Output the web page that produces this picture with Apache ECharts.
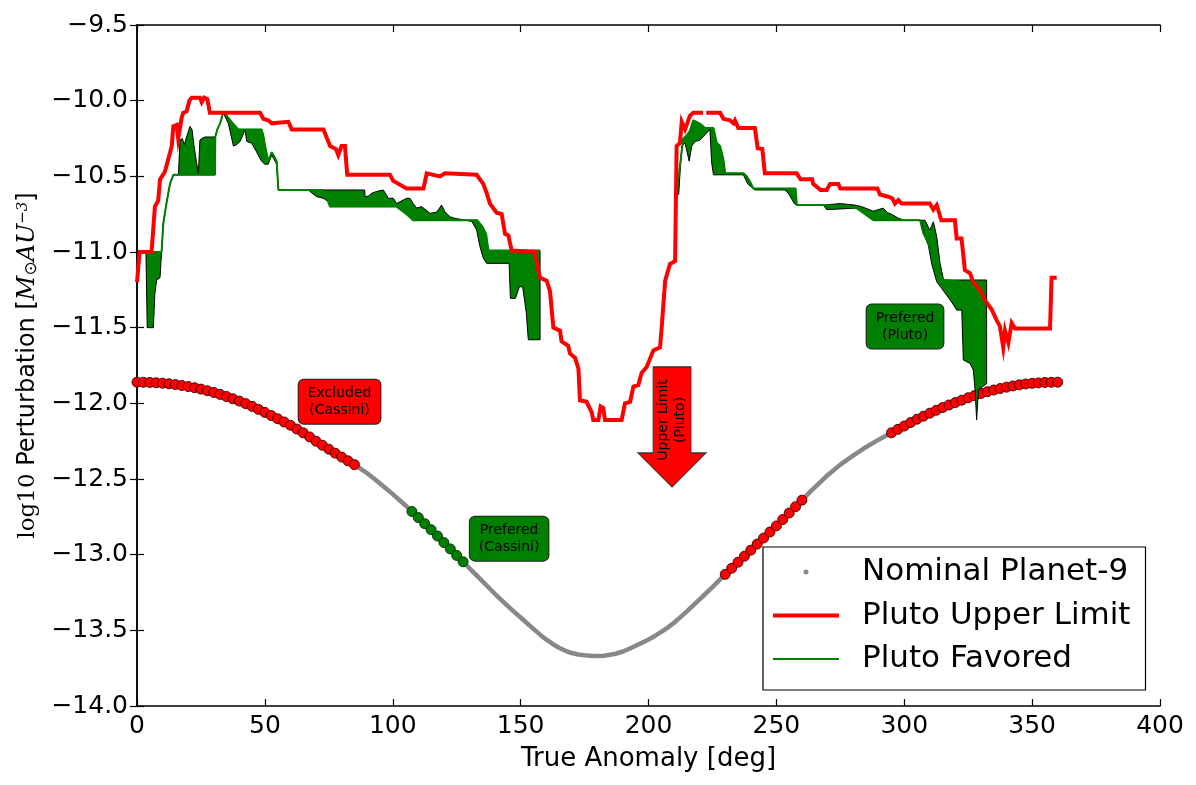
<!DOCTYPE html>
<html>
<head>
<meta charset="utf-8">
<script src="https://cdn.jsdelivr.net/npm/echarts@6/dist/echarts.min.js"></script>
<style>html,body{margin:0;padding:0;background:#fff}#chart{width:1196px;height:785px}</style>
</head>
<body>
<div id="chart"></div>
<script>
// ---------------- data ----------------
const xTicks = [0, 50, 100, 150, 200, 250, 300, 350, 400];
const yTicks = [-14.0, -13.5, -13.0, -12.5, -12.0, -11.5, -11.0, -10.5, -10.0, -9.5];

// Nominal Planet-9 curve (true anomaly, log10 perturbation)
const nominalAnomaly = [
  0,2.5,5,7.5,10,12.5,15,17.5,20,22.5,25,27.5,30,32.5,35,37.5,40,42.5,45,47.5,
  50,52.5,55,57.5,60,62.5,65,67.5,70,72.5,75,77.5,80,82.5,85,87.5,90,92.5,95,97.5,
  100,102.5,105,107.5,110,112.5,115,117.5,120,122.5,125,127.5,130,132.5,135,137.5,140,142.5,145,147.5,
  150,152.5,155,157.5,160,162.5,165,167.5,170,172.5,175,177.5,180,182.5,185,187.5,190,192.5,195,197.5,
  200,202.5,205,207.5,210,212.5,215,217.5,220,222.5,225,227.5,230,232.5,235,237.5,240,242.5,245,247.5,
  250,252.5,255,257.5,260,262.5,265,267.5,270,272.5,275,277.5,280,282.5,285,287.5,290,292.5,295,297.5,
  300,302.5,305,307.5,310,312.5,315,317.5,320,322.5,325,327.5,330,332.5,335,337.5,340,342.5,345,347.5,
  350,352.5,355,357.5,360
];
const nominalPerturbation = [
  -11.860,-11.861,-11.862,-11.864,-11.867,-11.871,-11.876,-11.882,-11.889,-11.897,
  -11.906,-11.917,-11.928,-11.941,-11.955,-11.970,-11.985,-12.002,-12.020,-12.040,
  -12.060,-12.081,-12.102,-12.123,-12.145,-12.170,-12.195,-12.222,-12.250,-12.277,
  -12.303,-12.329,-12.355,-12.380,-12.405,-12.433,-12.462,-12.495,-12.530,-12.565,
  -12.600,-12.637,-12.675,-12.715,-12.755,-12.795,-12.835,-12.877,-12.920,-12.962,
  -13.005,-13.047,-13.090,-13.132,-13.175,-13.217,-13.260,-13.300,-13.340,-13.378,
  -13.415,-13.453,-13.490,-13.527,-13.560,-13.590,-13.615,-13.635,-13.650,-13.660,
  -13.665,-13.668,-13.670,-13.668,-13.662,-13.653,-13.640,-13.622,-13.602,-13.582,
  -13.560,-13.537,-13.510,-13.482,-13.450,-13.413,-13.375,-13.335,-13.295,-13.255,
  -13.215,-13.172,-13.130,-13.090,-13.050,-13.010,-12.970,-12.930,-12.890,-12.850,
  -12.810,-12.768,-12.725,-12.683,-12.640,-12.597,-12.555,-12.515,-12.475,-12.440,
  -12.405,-12.375,-12.345,-12.317,-12.290,-12.265,-12.240,-12.217,-12.195,-12.172,
  -12.150,-12.127,-12.105,-12.085,-12.065,-12.046,-12.028,-12.011,-11.995,-11.979,
  -11.963,-11.949,-11.935,-11.923,-11.912,-11.902,-11.893,-11.885,-11.878,-11.872,
  -11.868,-11.865,-11.862,-11.861,-11.860
];
// anomaly ranges marked on the nominal curve
const excludedCassiniRanges = [[0, 85], [230, 260], [295, 360]];
const preferredCassiniRanges = [[107.5, 127.5]];

// Pluto upper limit
const plutoUpperLimit = [
  [0,-11.2],[1,-11.0],[5.7,-11.0],[7,-10.7],[8.3,-10.66],[9,-10.52],[10.9,-10.47],[11.6,-10.48],
  [13.6,-10.3],[14.2,-10.17],[15.5,-10.16],[16.1,-10.25],[17.5,-10.11],[18.1,-10.08],[19.4,-10.07],
  [20.5,-10.0],[21.4,-9.98],[24.6,-9.98],[25.3,-10.01],[26.2,-9.98],[27.5,-9.99],[28.5,-10.08],
  [48.1,-10.08],[49.4,-10.12],[51.3,-10.13],[52.7,-10.15],[59.2,-10.14],[60.5,-10.19],[72.9,-10.19],
  [75.5,-10.3],[77.8,-10.32],[78.7,-10.36],[80,-10.3],[81.3,-10.3],[82.2,-10.49],[98.9,-10.49],
  [100.2,-10.53],[105.4,-10.58],[112,-10.58],[113.3,-10.48],[118.5,-10.5],[120.4,-10.48],[132.8,-10.49],
  [135.4,-10.55],[136.7,-10.61],[138,-10.68],[140.6,-10.74],[142.6,-10.75],[143.9,-10.88],[145.2,-10.89],
  [146.5,-10.99],[155.6,-11.0],[156.9,-11.12],[157.6,-11.17],[160.2,-11.19],[161.5,-11.26],[162.8,-11.5],
  [165.4,-11.52],[166,-11.59],[168.6,-11.62],[169.3,-11.67],[171.3,-11.7],[172.6,-11.77],[173.2,-11.98],
  [175.8,-11.99],[177.8,-12.06],[178.4,-12.11],[180.4,-12.11],[181.3,-12.02],[182.3,-12.03],[183,-12.11],
  [189.5,-12.11],[190.8,-12.0],[192.8,-11.99],[194.1,-11.89],[196,-11.88],[197.3,-11.8],[199.3,-11.76],
  [201.9,-11.65],[204.5,-11.63],[205.2,-11.49],[206.5,-11.19],[208.4,-11.08],[210.4,-11.06],[211,-10.3],
  [212.3,-10.28],[213,-10.14],[214.3,-10.19],[216.2,-10.1],[217.5,-10.08],[221.3,-10.08],[221.9,null],
  [222.6,-10.08],[228,-10.08],[229.3,-10.12],[231.9,-10.13],[233.2,-10.15],[233.8,-10.13],[235.1,-10.18],
  [241.6,-10.18],[242.7,-10.315],[244.5,-10.32],[245.5,-10.48],[257.9,-10.48],[259.5,-10.52],[264,-10.52],
  [264.4,-10.55],[267.3,-10.59],[269.7,-10.59],[271,-10.55],[274.2,-10.55],[275,-10.58],[289.5,-10.58],
  [290.5,-10.62],[293.8,-10.635],[295.3,-10.645],[296.4,-10.68],[297.7,-10.657],[299,-10.68],[310,-10.68],
  [311.4,-10.72],[312.7,-10.69],[314.5,-10.79],[319.8,-10.79],[320.5,-10.91],[322.4,-10.91],[323.7,-11.12],
  [325.7,-11.14],[327,-11.2],[329.6,-11.25],[331.6,-11.32],[334.2,-11.38],[336.1,-11.45],[337.4,-11.49],
  [338.7,-11.63],[339.4,-11.52],[340.7,-11.6],[342,-11.47],[343.3,-11.505],[357,-11.505],[357.6,-11.17],
  [359.6,-11.17]
];

// Pluto favored line
const plutoFavored = [
  [3.5,-11.0],[9.6,-11.0],[10.3,-10.81],[11.6,-10.67],[12.9,-10.55],[14.2,-10.49],[30.5,-10.49],
  [30.6,-10.24],[31.4,-10.19],[32.5,-10.15],[33.7,-10.08],[35.1,-10.1],[37,-10.14],[39.6,-10.19],
  [48.7,-10.19],[49.4,-10.23],[50,-10.29],[51.3,-10.4],[52.7,-10.34],[54,-10.38],[54.6,-10.4],
  [55.3,-10.59],[72.9,-10.59],[75.5,-10.7],[101.5,-10.7],[105.4,-10.75],[108,-10.79],[133,-10.79],
  [135,-10.83],[136.5,-10.88],[137.4,-10.99],[157.6,-10.99],
  [184,null],
  [211,-10.52],[211.8,-10.5],[213.6,-10.25],[214.9,-10.23],[216.2,-10.2],[217.5,-10.13],[218.8,-10.14],
  [220.8,-10.16],[222.1,-10.18],[225.4,-10.18],[226.7,-10.28],[228,-10.3],[229.3,-10.39],[230,-10.48],
  [237.1,-10.48],[238.4,-10.5],[239.7,-10.535],[241,-10.58],[257.5,-10.58],[258,-10.69],[268.4,-10.69],
  [281.4,-10.71],[283.3,-10.734],[287.9,-10.79],[306.2,-10.79],[307.5,-10.877],[309.4,-10.943],
  [310.7,-11.0],[312.7,-11.1],[314,-11.15],[315.4,-11.185],[321.8,-11.197],[323.1,-11.23],
  [324.4,-11.318],[327,-11.34],[328.3,-11.516],[332.2,-11.516]
];

// favored band, first hump
const bandUpper1 = [
  [3.5,-11.0],[9.6,-11.0],[10.3,-10.81],[11.6,-10.67],[12.9,-10.55],[14.2,-10.49],[16.2,-10.49],
  [16.8,-10.26],[17.7,-10.25],[18.5,-10.29],[19.4,-10.24],[20.7,-10.17],[21.5,-10.19],[22.3,-10.3],
  [23.3,-10.41],[24.0,-10.48],[24.6,-10.26],[25.3,-10.25],[26.6,-10.24],[30.5,-10.24],[31.4,-10.19],
  [32.5,-10.15],[33.7,-10.08],[35.1,-10.1],[37,-10.14],[39.6,-10.19],[48.7,-10.19],[49.4,-10.23],
  [50,-10.29],[51.3,-10.4],[52.7,-10.34],[54,-10.38],[54.6,-10.4],[55.3,-10.59],[89,-10.59],
  [89.2,-10.635],[90.5,-10.63],[92,-10.61],[93.7,-10.6],[96.3,-10.59],[98.3,-10.645],[100.2,-10.645],
  [101.5,-10.68],[105.4,-10.645],[106.7,-10.645],[108,-10.68],[109.4,-10.71],[111.3,-10.70],
  [114.6,-10.745],[117.2,-10.735],[119.1,-10.69],[120.4,-10.735],[122.4,-10.767],[124.3,-10.778],
  [128.9,-10.79],[133,-10.79],[135,-10.83],[136.5,-10.88],[137.4,-10.99],[157.6,-10.99]
];
const bandLower1 = [
  [3.5,-11.0],[4.0,-11.5],[6.4,-11.5],[7.0,-11.27],[7.7,-11.185],[9.0,-11.17],[9.6,-11.0],[10.3,-10.81],
  [11.6,-10.67],[12.9,-10.55],[14.2,-10.49],[30.5,-10.49],[30.6,-10.24],[31.4,-10.19],[32.5,-10.15],
  [33.7,-10.08],[35.7,-10.15],[37.7,-10.3],[39,-10.29],[40.3,-10.27],[41.6,-10.22],[42.2,-10.19],
  [42.9,-10.27],[44.8,-10.28],[46.8,-10.34],[48.7,-10.4],[50,-10.42],[51.3,-10.42],[52.7,-10.36],
  [54,-10.4],[54.6,-10.42],[55.3,-10.59],[67,-10.59],[68.3,-10.61],[70.3,-10.635],[72.9,-10.645],
  [74.8,-10.668],[75.5,-10.7],[101.5,-10.7],[105.4,-10.75],[108,-10.79],[128.9,-10.79],[131,-10.8],
  [132.8,-10.855],[134.1,-10.965],[135.4,-11.04],[136.7,-11.075],[145.5,-11.075],[146,-11.306],
  [148,-11.306],[149.5,-11.23],[150.8,-11.23],[152.2,-11.4],[153,-11.58],[157.6,-11.58]
];
// favored band, second hump
const bandUpper2 = [
  [211,-10.52],[211.8,-10.5],[213.6,-10.25],[214.9,-10.23],[216.2,-10.2],[217.5,-10.13],[218.8,-10.14],
  [220.8,-10.16],[222.1,-10.18],[225.4,-10.18],[226.7,-10.28],[228,-10.3],[229.3,-10.39],[230,-10.48],
  [237.1,-10.48],[238.4,-10.5],[239.7,-10.535],[241,-10.58],[257.5,-10.58],[258,-10.69],[268.4,-10.69],
  [275,-10.68],[280.7,-10.69],[283.3,-10.70],[287.9,-10.73],[291.8,-10.71],[293.5,-10.74],[295,-10.75],
  [297.7,-10.777],[300,-10.79],[306.2,-10.79],[308.1,-10.79],[310,-10.855],[311.4,-10.8],[312.7,-10.9],
  [314,-11.075],[315.4,-11.185],[332.2,-11.185]
];
const bandLower2 = [
  [211,-10.52],[211.1,-10.62],[211.8,-10.62],[213,-10.3],[214.3,-10.28],[215.9,-10.4],[216.9,-10.3],
  [218.2,-10.27],[220.2,-10.26],[224,-10.19],[224.7,-10.41],[225.4,-10.49],[237.1,-10.49],[238.8,-10.55],
  [241.6,-10.59],[253.4,-10.59],[255,-10.62],[257,-10.68],[258,-10.69],[268.4,-10.69],[269.7,-10.72],
  [281.4,-10.71],[283.3,-10.734],[287.9,-10.79],[306.2,-10.79],[306.8,-10.8],[308.1,-10.9],[309.4,-10.954],
  [310.7,-11.075],[312.7,-11.197],[314.6,-11.24],[315.9,-11.27],[318.5,-11.33],[320.5,-11.384],
  [322.5,-11.384],[323.1,-11.714],[325.7,-11.736],[327,-11.78],[327.7,-11.91],[328.3,-12.11],[329,-11.91],
  [332.2,-11.87]
];

// annotation boxes (anchor in data space) and texts
const boxAnchors = [[79.2, -11.99], [145.5, -12.894], [300.3, -11.493]];
const boxTexts = ['Excluded\n(Cassini)', 'Prefered\n(Cassini)', 'Prefered\n(Pluto)'];
const arrowAnchor = [209.2, -12.11];
const arrowText = 'Upper Limit\n(Pluto)';

// ---------------- chart ----------------
const FONT = "'DejaVu Sans', 'Bitstream Vera Sans', sans-serif";
const RED = '#ff0000', GREEN = '#008000', GRAY = '#888888';

const nominalPoints = nominalAnomaly.map((a, i) => [a, nominalPerturbation[i]]);
const inRanges = (a, ranges) => ranges.some(r => a >= r[0] && a <= r[1]);
const excludedPoints = nominalPoints.filter(p => inRanges(p[0], excludedCassiniRanges));
const preferredPoints = nominalPoints.filter(p => inRanges(p[0], preferredCassiniRanges));
const bands = [{ upper: bandUpper1, lower: bandLower1 }, { upper: bandUpper2, lower: bandLower2 }];

const minus = v => (v < 0 ? '\u2212' : '') + Math.abs(v).toFixed(1);
const frameLine = { show: true, lineStyle: { color: '#000', width: 1.5 } };
const tickIn = { show: true, inside: true, length: 7, lineStyle: { color: '#000', width: 1.2 } };

const boxColors = [RED, GREEN, GREEN];

const chart = echarts.init(document.getElementById('chart'), null, { renderer: 'canvas' });
chart.setOption({
  animation: false,
  backgroundColor: '#fff',
  grid: { left: 137, right: 36, top: 25, bottom: 79, containLabel: false },
  xAxis: [
    {
      type: 'value', min: xTicks[0], max: xTicks[xTicks.length - 1], interval: 50,
      name: 'True Anomaly [deg]', nameLocation: 'middle', nameGap: 40,
      nameTextStyle: { fontFamily: FONT, fontSize: 26, color: '#000' },
      axisLine: frameLine, axisTick: tickIn, splitLine: { show: false },
      axisLabel: { fontFamily: FONT, fontSize: 25, color: '#000', margin: 8 }
    },
    {
      type: 'value', position: 'top', min: xTicks[0], max: xTicks[xTicks.length - 1], interval: 50,
      axisLine: frameLine, axisTick: tickIn, splitLine: { show: false }, axisLabel: { show: false }
    }
  ],
  yAxis: [
    {
      type: 'value', min: yTicks[0], max: yTicks[yTicks.length - 1], interval: 0.5,
      name: '{m|log10} {n|Perturbation [}{i|M}{o|\u2299}{i|AU}{s|\u22123}{n|]}',
      nameLocation: 'middle', nameGap: 97, nameRotate: 90,
      nameTextStyle: {
        fontFamily: FONT, fontSize: 24, color: '#000',
        rich: {
          m: { fontFamily: "'DejaVu Serif', serif", fontSize: 23, color: '#000' },
          n: { fontFamily: FONT, fontSize: 24, color: '#000' },
          i: { fontFamily: "'DejaVu Serif', serif", fontStyle: 'italic', fontSize: 24, color: '#000' },
          o: { fontFamily: FONT, fontSize: 17, color: '#000', verticalAlign: 'bottom' },
          s: { fontFamily: "'DejaVu Serif', serif", fontStyle: 'italic', fontSize: 15, color: '#000', verticalAlign: 'top' }
        }
      },
      axisLine: frameLine, axisTick: tickIn, splitLine: { show: false },
      axisLabel: { fontFamily: FONT, fontSize: 25, color: '#000', margin: 9, formatter: minus }
    },
    {
      type: 'value', position: 'right', min: yTicks[0], max: yTicks[yTicks.length - 1], interval: 0.5,
      axisLine: frameLine, axisTick: tickIn, splitLine: { show: false }, axisLabel: { show: false }
    }
  ],
  legend: {
    orient: 'vertical', left: 763, top: 547,
    padding: [8, 15, 14, 10], itemGap: 9.5,
    itemWidth: 66, itemHeight: 5,
    backgroundColor: '#fff', borderColor: '#000', borderWidth: 1.2,
    itemStyle: { borderWidth: 0 },
    textStyle: { fontFamily: FONT, fontSize: 31, color: '#000', lineHeight: 34, padding: [0, 0, 0, 18] },
    data: [
      { name: 'Nominal Planet-9', icon: 'circle' },
      { name: 'Pluto Upper Limit', icon: 'path://M0,0H66V4H0Z' },
      { name: 'Pluto Favored', icon: 'path://M0,0H66V2H0Z' }
    ]
  },
  series: [
    {
      name: 'Nominal Planet-9', type: 'line', data: nominalPoints, z: 1,
      symbol: 'none', color: GRAY, lineStyle: { color: GRAY, width: 4.5, cap: 'round' }
    },
    {
      name: 'excluded-markers', type: 'scatter', data: excludedPoints, z: 2, silent: true,
      symbol: 'circle', symbolSize: 10,
      itemStyle: { color: RED, borderColor: '#3a0000', borderWidth: 0.9, opacity: 1 }
    },
    {
      name: 'preferred-markers', type: 'scatter', data: preferredPoints, z: 2, silent: true,
      symbol: 'circle', symbolSize: 10,
      itemStyle: { color: GREEN, borderColor: '#002800', borderWidth: 0.9, opacity: 1 }
    },
    {
      name: 'favored-band', type: 'custom', z: 3, silent: true,
      data: bands.map((b, i) => [b.upper[0][0], b.upper[0][1], i]),
      encode: { x: 0, y: 1 },
      renderItem: (params, api) => {
        const b = bands[api.value(2)];
        const pts = b.upper.map(p => api.coord(p)).concat(b.lower.slice().reverse().map(p => api.coord(p)));
        return {
          type: 'polygon', shape: { points: pts },
          style: { fill: GREEN, stroke: '#000', lineWidth: 1, lineJoin: 'miter' }
        };
      }
    },
    {
      name: 'Pluto Favored', type: 'line', data: plutoFavored, z: 4,
      symbol: 'none', color: GREEN, connectNulls: false,
      lineStyle: { color: GREEN, width: 2 }
    },
    {
      name: 'Pluto Upper Limit', type: 'line', data: plutoUpperLimit, z: 5,
      symbol: 'none', color: RED, connectNulls: false,
      lineStyle: { color: RED, width: 4, join: 'miter' }
    },
    {
      name: 'notes', type: 'scatter', z: 10, silent: true,
      symbolSize: 1, itemStyle: { color: 'rgba(0,0,0,0)', opacity: 1 },
      data: boxAnchors.map((p, i) => ({
        value: p,
        label: {
          show: true, position: 'inside', formatter: boxTexts[i],
          fontFamily: FONT, fontSize: 14, lineHeight: 17, color: '#000', align: 'center',
          backgroundColor: boxColors[i], borderColor: '#222', borderWidth: 1, borderRadius: 5,
          padding: [5, 9, 5, 9], opacity: 1
        }
      }))
    },
    {
      name: 'arrow-note', type: 'scatter', z: 10, silent: true,
      symbol: 'path://M15,0 L53,0 L53,86 L68,86 L34,120 L0,86 L15,86 Z',
      symbolSize: [68, 120], symbolOffset: [0, 7],
      itemStyle: { color: RED, borderColor: '#333', borderWidth: 1, opacity: 1 },
      data: [{
        value: arrowAnchor,
        label: {
          show: true, position: 'inside', rotate: 90, formatter: arrowText,
          fontFamily: FONT, fontSize: 14, lineHeight: 17, color: '#000', align: 'center', offset: [7, 0]
        }
      }]
    }
  ]
});
</script>
</body>
</html>
